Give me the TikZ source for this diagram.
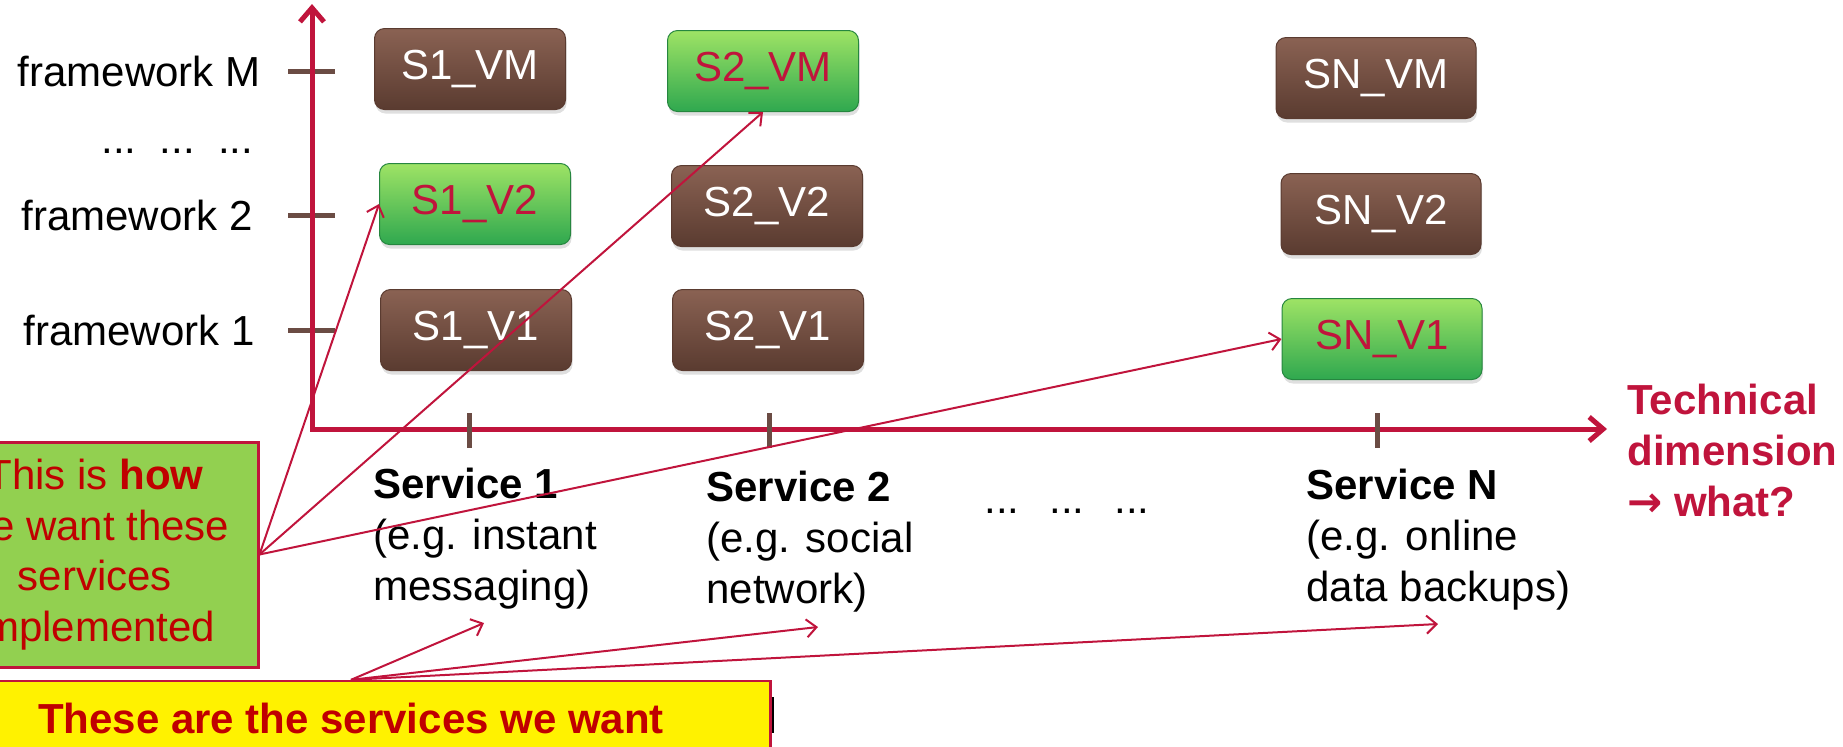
\documentclass[tikz,border=0pt]{standalone}
\usepackage{fontspec}
\setmainfont{Liberation Sans}
\newfontfamily\symbfont{DejaVu Sans}
\usetikzlibrary{arrows.meta,shadows}
\definecolor{rojo}{HTML}{C0143C}
\definecolor{rojoosc}{HTML}{C00000}
\definecolor{cafe}{HTML}{6B4C44}
\definecolor{cafearr}{HTML}{8A6253}
\definecolor{cafeab}{HTML}{5A3B30}
\definecolor{verdearr}{HTML}{9EE365}
\definecolor{verdeab}{HTML}{2FA84F}
\definecolor{verdenota}{HTML}{92D050}
\newcommand{\txtsize}{\fontsize{21}{25.3}\selectfont}
\tikzset{
  version/.style={rounded corners=5pt, minimum width=95.5pt, minimum height=40.5pt,
    top color=cafearr, bottom color=cafeab, draw=cafeab, line width=0.5pt, text=white,
    drop shadow={opacity=0.25, shadow xshift=0.5pt, shadow yshift=-2pt}},
  chosen/.style={version, top color=verdearr, bottom color=verdeab, draw=verdeab!80!black, text=rojo},
  axisline/.style={rojo, line width=2.5pt, {Straight Barb[length=7pt,width=12pt]}-{Straight Barb[length=7pt,width=12pt]}},
  tickmark/.style={cafe, line width=2.5pt},
  pointer/.style={rojo, line width=1pt, -{Straight Barb[length=5pt,width=9pt]}},
  servicio/.style={anchor=north west, align=left},
  dimension/.style={anchor=north west, align=left, text=rojo, font=\txtsize\bfseries},
  howbox/.style={draw=rojo, line width=1.5pt, fill=verdenota, text=rojoosc, align=center,
    minimum width=163pt, minimum height=112.5pt},
  servbox/.style={draw=rojo, line width=1.2pt, fill=yellow, text=rojoosc, font=\txtsize\bfseries,
    minimum width=419.5pt, minimum height=37pt},
}

\begin{document}
\begin{tikzpicture}[x=0.5pt, y=-0.5pt, font=\txtsize, inner sep=0pt]
  \path[use as bounding box] (0,0) rectangle (1843,746);
  \clip (0,0) rectangle (1843,746);

  % framework ticks sit under the axis
  \foreach \y in {71,215,330}
    \draw[tickmark] (288,\y) -- (335,\y);

  % axes
  \coordinate (ytop) at (312,4);
  \coordinate (origen) at (312,429);
  \coordinate (xend) at (1607,429);
  \draw[axisline] (ytop) -- (origen) -- (xend);
  \foreach \x in {469,769,1377}
    \draw[tickmark] (\x,413) -- (\x,448);

  % frameworks
  \node (fm) at (139,71) {framework M};
  \node[anchor=base west] (fdots) at (101,153) {...\ \ ...\ \ ...};
  \node (f2) at (137,215) {framework 2};
  \node (f1) at (139,330) {framework 1};

  % versions of each service
  \node[version] (s1vm) at (470,69) {S1\_VM};
  \node[chosen]  (s1v2) at (475,204) {S1\_V2};
  \node[version] (s1v1) at (476,330) {S1\_V1};
  \node[chosen]  (s2vm) at (763,71) {S2\_VM};
  \node[version] (s2v2) at (767,206) {S2\_V2};
  \node[version] (s2v1) at (768,330) {S2\_V1};
  \node[version, minimum width=100pt] (snvm) at (1376,78) {SN\_VM};
  \node[version, minimum width=100pt] (snv2) at (1381,214) {SN\_V2};
  \node[chosen, minimum width=100pt]  (snv1) at (1382,339) {SN\_V1};

  % services
  \node[servicio] (serv1) at (373,468) {\textbf{Service 1}\\(e.g. instant\\messaging)};
  \node[servicio] (serv2) at (706,471) {\textbf{Service 2}\\(e.g. social\\network)};
  \node[servicio] (servn) at (1306,469) {\textbf{Service N}\\(e.g. online\\data backups)};
  \node[anchor=base west] (sdots) at (984,513) {...\hspace{15pt}...\hspace{15pt}...};
  \node[dimension] (tech) at (1627,384) {Technical\\dimension\\{\symbfont\bfseries →} what?};

  % notes
  \node[howbox] (how) at (95,554.5) {This is \textbf{how}\\we want these\\services\\implemented};
  \node[servbox] (want) at (351,718) {These are the services we want};
  \draw[black, line width=0.6pt] (773,697) -- (773,733);

  % pointers
  \foreach \t in {s1v2.west, s2vm.south, snv1.west}
    \draw[pointer] (how.east) -- (\t);
  \coordinate (m1) at (484,623);
  \coordinate (m2) at (818,627);
  \coordinate (m3) at (1438,624);
  \foreach \t in {m1,m2,m3}
    \draw[pointer] (want.north) -- (\t);
\end{tikzpicture}
\end{document}
